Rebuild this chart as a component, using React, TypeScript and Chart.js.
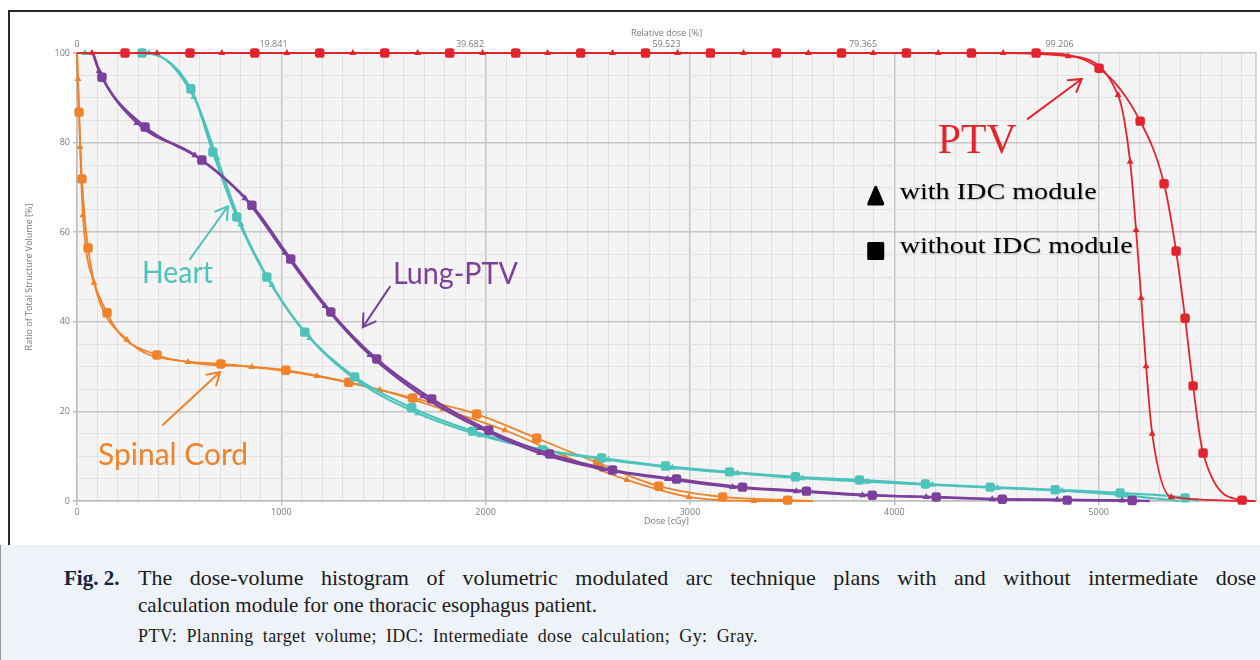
import React, { useEffect, useRef } from 'react';
import { Chart, registerables } from 'chart.js';

Chart.register(...registerables);

// ---------------- data (dose in cGy, volume in %) ----------------
const relativeDoseLabels = ['0', '19.841', '39.682', '59.523', '79.365', '99.206'];

// PTV
const ptvWithDose = [0, 73, 391, 709, 1027, 1350, 1667, 1985, 2303, 2621, 2939, 3262, 3579, 3897, 4215, 4533, 4851, 5095, 5154, 5183, 5208, 5232, 5262, 5355, 5770];
const ptvWithVol = [100, 100, 100, 100, 100, 100, 100, 100, 100, 100, 100, 100, 100, 100, 100, 100, 99.3, 90.6, 75.7, 60.5, 45.3, 30.1, 15, 0.9, 0];
const ptvWithoutDose = [0, 235, 553, 870, 1188, 1506, 1824, 2147, 2465, 2782, 3100, 3423, 3741, 4059, 4377, 4694, 5002, 5203, 5320, 5379, 5423, 5462, 5511, 5702, 5770];
const ptvWithoutVol = [100, 100, 100, 100, 100, 100, 100, 100, 100, 100, 100, 100, 100, 100, 100, 100, 96.6, 84.8, 70.8, 55.8, 40.8, 25.7, 10.7, 0.2, 0];

// Lung-PTV
const lungWithDose = [78, 108, 293, 577, 822, 1017, 1213, 1433, 1692, 1971, 2264, 2572, 2890, 3208, 3521, 3844, 4156, 4479, 4797, 5115, 5200];
const lungWithVol = [100, 96, 84.4, 77.2, 67.6, 55.4, 43.5, 32.6, 23.4, 16.3, 10.7, 7.1, 4.9, 3.1, 2.2, 1.3, 0.9, 0.4, 0.3, 0.1, 0];
const lungWithoutDose = [78, 122, 333, 611, 856, 1046, 1242, 1467, 1736, 2015, 2313, 2621, 2934, 3257, 3570, 3892, 4205, 4528, 4846, 5164, 5250];
const lungWithoutVol = [100, 94.6, 83.5, 76.1, 66, 54, 42.2, 31.7, 22.8, 15.8, 10.5, 6.9, 4.9, 3.1, 2.2, 1.3, 0.9, 0.4, 0.2, 0.1, 0];

// Heart
const heartWithDose = [0, 39, 352, 572, 685, 802, 954, 1139, 1389, 1667, 1971, 2303, 2601, 2914, 3232, 3550, 3868, 4186, 4504, 4821, 5139, 5400];
const heartWithVol = [100, 100, 100, 90.2, 76.6, 61.8, 48.2, 36.4, 26.3, 19.6, 14.7, 11.2, 9.2, 7.4, 6.2, 5.1, 4.3, 3.6, 2.9, 2.3, 1.2, 0];
const heartWithoutDose = [0, 318, 557, 665, 782, 929, 1115, 1359, 1638, 1936, 2279, 2567, 2880, 3193, 3516, 3829, 4152, 4469, 4787, 5105, 5423, 5490];
const heartWithoutVol = [100, 100, 92, 77.9, 63.4, 50, 37.7, 27.7, 20.8, 15.6, 11.4, 9.6, 7.8, 6.5, 5.4, 4.7, 3.8, 3.1, 2.5, 1.8, 0.7, 0];

// Spinal Cord
const cordWithDose = [0, 5, 15, 29, 83, 244, 543, 856, 1174, 1482, 1790, 2094, 2387, 2691, 2994, 3312, 3600];
const cordWithVol = [100, 94.2, 79, 63.8, 48.7, 36, 31, 29.9, 27.9, 24.8, 20.5, 15.8, 10, 4.7, 0.9, 0, 0];
const cordWithoutDose = [0, 10, 24, 54, 147, 391, 704, 1022, 1330, 1643, 1956, 2250, 2549, 2847, 3160, 3478, 3600];
const cordWithoutVol = [100, 86.8, 71.9, 56.5, 42, 32.6, 30.6, 29.2, 26.5, 23, 19.4, 14.0, 8.5, 3.3, 0.9, 0.2, 0];

// ---------------- styling ----------------
const RED = '#e4242c';
const TEAL = '#4dc3bb';
const PURPLE = '#7c3f9c';
const ORANGE = '#f08229';

const X_MAX = 5770;

type SeriesDef = {
  label: string;
  dose: number[];
  vol: number[];
  color: string;
  marker: 'triangle' | 'rectRounded';
  width: number;
};

const series: SeriesDef[] = [
  { label: 'PTV with IDC', dose: ptvWithDose, vol: ptvWithVol, color: RED, marker: 'triangle', width: 1.8 },
  { label: 'PTV without IDC', dose: ptvWithoutDose, vol: ptvWithoutVol, color: RED, marker: 'rectRounded', width: 1.8 },
  { label: 'Lung-PTV with IDC', dose: lungWithDose, vol: lungWithVol, color: PURPLE, marker: 'triangle', width: 2.4 },
  { label: 'Lung-PTV without IDC', dose: lungWithoutDose, vol: lungWithoutVol, color: PURPLE, marker: 'rectRounded', width: 2.4 },
  { label: 'Heart with IDC', dose: heartWithDose, vol: heartWithVol, color: TEAL, marker: 'triangle', width: 2.2 },
  { label: 'Heart without IDC', dose: heartWithoutDose, vol: heartWithoutVol, color: TEAL, marker: 'rectRounded', width: 2.2 },
  { label: 'Spinal Cord with IDC', dose: cordWithDose, vol: cordWithVol, color: ORANGE, marker: 'triangle', width: 1.8 },
  { label: 'Spinal Cord without IDC', dose: cordWithoutDose, vol: cordWithoutVol, color: ORANGE, marker: 'rectRounded', width: 1.8 },
];

// annotations placed in data units (dose, volume)
const labels = [
  { text: 'PTV', dose: 4212, vol: 77.7, width: 79, font: '42px "Liberation Serif"', color: RED, shadow: false },
  { text: 'with IDC module', dose: 4026, vol: 67.4, width: 197, font: '23px "Liberation Serif"', color: '#000000', shadow: true },
  { text: 'without IDC module', dose: 4026, vol: 55.4, width: 233, font: '23px "Liberation Serif"', color: '#000000', shadow: true },
  { text: 'Heart', dose: 318, vol: 48.7, width: 71, font: '30px Lato', color: TEAL, shadow: false },
  { text: 'Lung-PTV', dose: 1546, vol: 48.4, width: 125, font: '30px Lato', color: PURPLE, shadow: false },
  { text: 'Spinal Cord', dose: 103, vol: 8.0, width: 150, font: '30px Lato', color: ORANGE, shadow: false },
];

const arrows = [
  { from: [553, 54.0], to: [739, 65.8], color: TEAL },
  { from: [1531, 47.8], to: [1399, 38.8], color: PURPLE },
  { from: [421, 17.0], to: [700, 28.8], color: ORANGE },
  { from: [4653, 85.3], to: [4917, 94.2], color: RED },
];

const legendMarkers = [
  { shape: 'triangle', dose: 3909, vol: 68.1 },
  { shape: 'square', dose: 3909, vol: 55.8 },
];

const annotationPlugin = {
  id: 'dvhAnnotations',
  beforeDraw(chart: any) {
    const { ctx, chartArea: a } = chart;
    ctx.save();
    ctx.fillStyle = '#f4f4f4';
    ctx.fillRect(a.left, a.top, a.right - a.left, a.bottom - a.top);
    ctx.restore();
  },
  afterDraw(chart: any) {
    const { ctx, chartArea: a } = chart;
    const xs = chart.scales.x;
    const ys = chart.scales.y;
    ctx.save();
    // right border of plot
    ctx.strokeStyle = '#c8c8c8';
    ctx.lineWidth = 1.5;
    ctx.beginPath();
    ctx.moveTo(a.right, a.top);
    ctx.lineTo(a.right, a.bottom);
    ctx.stroke();

    // texts
    for (const l of labels) {
      const px = xs.getPixelForValue(l.dose);
      const py = ys.getPixelForValue(l.vol);
      ctx.save();
      ctx.font = l.font;
      ctx.fillStyle = l.color;
      ctx.textBaseline = 'alphabetic';
      ctx.textAlign = 'left';
      const w = ctx.measureText(l.text).width || 1;
      ctx.translate(px, py);
      ctx.scale(l.width / w, 1);
      if (l.shadow) {
        ctx.shadowColor = 'rgba(90,90,90,0.45)';
        ctx.shadowBlur = 1.2;
        ctx.shadowOffsetX = 0.7;
        ctx.shadowOffsetY = 0.7;
      }
      ctx.fillText(l.text, 0, 0);
      ctx.restore();
    }

    // arrows
    for (const ar of arrows) {
      const x1 = xs.getPixelForValue(ar.from[0]);
      const y1 = ys.getPixelForValue(ar.from[1]);
      const x2 = xs.getPixelForValue(ar.to[0]);
      const y2 = ys.getPixelForValue(ar.to[1]);
      const ang = Math.atan2(y2 - y1, x2 - x1);
      const head = 14;
      const spread = 0.55;
      ctx.strokeStyle = ar.color;
      ctx.lineWidth = 2;
      ctx.lineCap = 'round';
      ctx.beginPath();
      ctx.moveTo(x1, y1);
      ctx.lineTo(x2, y2);
      ctx.moveTo(x2 - head * Math.cos(ang - spread), y2 - head * Math.sin(ang - spread));
      ctx.lineTo(x2, y2);
      ctx.lineTo(x2 - head * Math.cos(ang + spread), y2 - head * Math.sin(ang + spread));
      ctx.stroke();
    }

    // legend markers
    for (const m of legendMarkers) {
      const cx = xs.getPixelForValue(m.dose);
      const cy = ys.getPixelForValue(m.vol);
      ctx.fillStyle = '#000';
      ctx.strokeStyle = '#000';
      ctx.lineJoin = 'round';
      ctx.lineWidth = 3;
      ctx.beginPath();
      if (m.shape === 'triangle') {
        ctx.moveTo(cx, cy - 8.5);
        ctx.lineTo(cx + 7, cy + 8);
        ctx.lineTo(cx - 7, cy + 8);
        ctx.closePath();
      } else {
        ctx.rect(cx - 7, cy - 7.5, 14, 15);
      }
      ctx.fill();
      ctx.stroke();
    }
    ctx.restore();
  },
};

export default function App() {
  const canvasRef = useRef<HTMLCanvasElement>(null);

  useEffect(() => {
    const canvas = canvasRef.current;
    if (!canvas) return;
    const gridColor = (ctx: any) => (ctx.tick && ctx.tick.value % 1000 === 0 ? '#c6c6c6' : '#e1e1e1');
    const gridWidth = (ctx: any) => (ctx.tick && ctx.tick.value % 1000 === 0 ? 1.5 : 1);
    const yGridColor = (ctx: any) => (ctx.tick && ctx.tick.value % 20 === 0 ? '#c6c6c6' : '#e1e1e1');
    const yGridWidth = (ctx: any) => (ctx.tick && ctx.tick.value % 20 === 0 ? 1.5 : 1);
    const tickFont = { family: '"Open Sans", "DejaVu Sans", sans-serif', size: 9 };

    const chart = new Chart(canvas, {
      type: 'line',
      data: {
        datasets: series.map((s) => ({
          label: s.label,
          data: s.dose.map((d, i) => ({ x: d, y: s.vol[i] })),
          borderColor: s.color,
          backgroundColor: s.color,
          borderWidth: s.width,
          pointStyle: s.marker,
          pointBackgroundColor: s.color,
          pointBorderColor: s.color,
          pointBorderWidth: 0,
          pointRadius: (ctx: any) => {
            const n = ctx.dataset.data.length;
            if (ctx.dataIndex === 0 || ctx.dataIndex === n - 1) return 0;
            return s.marker === 'triangle' ? 4 : 5.5;
          },
          cubicInterpolationMode: 'monotone',
          tension: 0.4,
          fill: false,
          clip: false,
        })) as any,
      },
      options: {
        animation: false,
        responsive: false,
        devicePixelRatio: 1,
        layout: { padding: { left: 22, right: 4, top: 23, bottom: 18 } },
        plugins: {
          legend: { display: false },
          tooltip: { enabled: false },
        },
        scales: {
          x: {
            type: 'linear',
            position: 'bottom',
            min: 0,
            max: X_MAX,
            afterFit: (scale: any) => {
              scale.height = 26;
            },
            ticks: {
              stepSize: 100,
              autoSkip: false,
              includeBounds: false,
              maxRotation: 0,
              minRotation: 0,
              padding: 2,
              color: '#7a7a7a',
              font: tickFont,
              callback: (v: any) => (Number(v) % 1000 === 0 ? String(v) : ''),
            },
            grid: {
              color: gridColor,
              lineWidth: gridWidth,
              tickLength: 4,
              tickColor: (ctx: any) => (ctx.tick && ctx.tick.value % 1000 === 0 ? '#bdbdbd' : 'rgba(0,0,0,0)'),
            },
            border: { color: '#bdbdbd', width: 1.5 },
            title: {
              display: true,
              text: 'Dose [cGy]',
              color: '#7a7a7a',
              font: tickFont,
              padding: 0,
            },
          },
          x2: {
            type: 'linear',
            position: 'top',
            min: 0,
            max: X_MAX,
            afterFit: (scale: any) => {
              scale.height = 30;
            },
            ticks: {
              stepSize: 1000,
              autoSkip: false,
              includeBounds: false,
              maxRotation: 0,
              minRotation: 0,
              padding: 3,
              color: '#7a7a7a',
              font: tickFont,
              callback: (_v: any, i: number) => relativeDoseLabels[i] ?? '',
            },
            grid: { display: false, drawTicks: false },
            border: { display: false },
            title: {
              display: true,
              text: 'Relative dose [%]',
              color: '#7a7a7a',
              font: tickFont,
              padding: { top: 5, bottom: 0 },
            },
          },
          y: {
            type: 'linear',
            min: 0,
            max: 100,
            afterFit: (scale: any) => {
              scale.width = 55;
            },
            ticks: {
              stepSize: 5,
              autoSkip: false,
              padding: 3,
              color: '#7a7a7a',
              font: tickFont,
              callback: (v: any) => (Number(v) % 20 === 0 ? String(v) : ''),
            },
            grid: {
              color: yGridColor,
              lineWidth: yGridWidth,
              tickLength: 4,
              tickColor: (ctx: any) => (ctx.tick && ctx.tick.value % 20 === 0 ? '#bdbdbd' : 'rgba(0,0,0,0)'),
            },
            border: { color: '#bdbdbd', width: 1.5 },
            title: {
              display: true,
              text: 'Ratio of Total Structure Volume [%]',
              color: '#7a7a7a',
              font: tickFont,
              padding: { top: 2, bottom: 0 },
            },
          },
        },
      } as any,
      plugins: [annotationPlugin as any],
    });
    return () => chart.destroy();
  }, []);

  const serif = '"Liberation Serif", "Times New Roman", serif';

  return (
    <div style={{ position: 'fixed', left: 0, top: 0, width: 1260, height: 660, background: '#ffffff', overflow: 'hidden' }}>
      <div
        style={{
          position: 'absolute',
          left: 8,
          top: 10,
          width: 1252,
          height: 535,
          borderTop: '2px solid #2a2a2a',
          borderLeft: '2px solid #2a2a2a',
          boxSizing: 'border-box',
          background: '#ffffff',
        }}
      />
      <canvas
        ref={canvasRef}
        width={1260}
        height={545}
        style={{ position: 'absolute', left: 0, top: 0, width: 1260, height: 545 }}
      />
      <div
        style={{
          position: 'absolute',
          left: 0,
          top: 545,
          width: 1260,
          height: 115,
          background: '#eef2f9',
          borderLeft: '1px solid #9a9a9a',
          boxSizing: 'border-box',
          fontFamily: serif,
          color: '#1b1b1b',
        }}
      >
        <div style={{ position: 'absolute', left: 63, top: 21, fontSize: 21, lineHeight: '24px', fontWeight: 'bold', color: '#14213d' }}>
          Fig. 2.
        </div>
        <div
          style={{
            position: 'absolute',
            left: 137,
            top: 21,
            width: 1118,
            fontSize: 22,
            lineHeight: '24px',
            textAlign: 'justify',
            textAlignLast: 'justify' as any,
          }}
        >
          The dose-volume histogram of volumetric modulated arc technique plans with and without intermediate dose
        </div>
        <div style={{ position: 'absolute', left: 137, top: 48, fontSize: 21, lineHeight: '24px', whiteSpace: 'nowrap' }}>
          calculation module for one thoracic esophagus patient.
        </div>
        <div
          style={{
            position: 'absolute',
            left: 137,
            top: 81,
            width: 620,
            fontSize: 18,
            letterSpacing: '0.4px',
            lineHeight: '20px',
            textAlign: 'justify',
            textAlignLast: 'justify' as any,
          }}
        >
          PTV: Planning target volume; IDC: Intermediate dose calculation; Gy: Gray.
        </div>
      </div>
    </div>
  );
}
